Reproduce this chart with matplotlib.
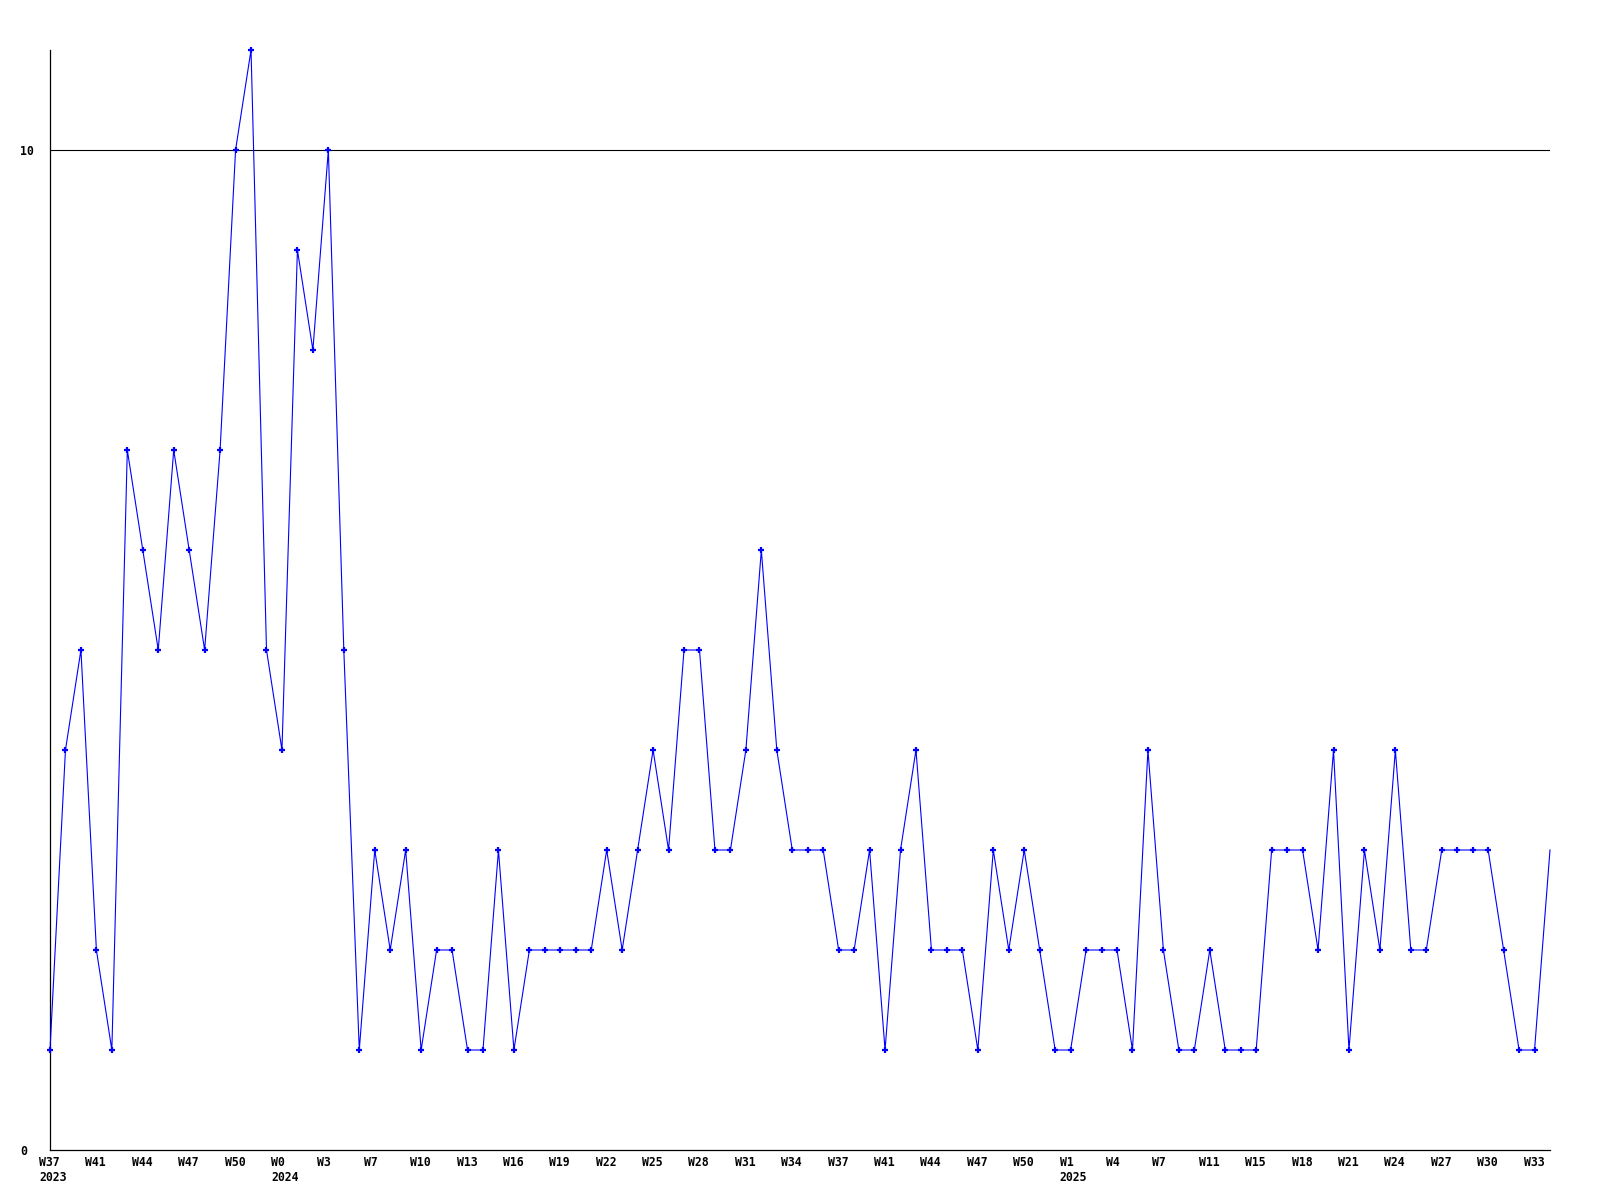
import matplotlib
matplotlib.use("Agg")
import matplotlib.pyplot as plt
from matplotlib.transforms import ScaledTranslation

# Weekly counts (98 weeks)
values = [1, 4, 5, 2, 1, 7, 6, 5, 7, 6, 5, 7, 10, 11, 5, 4, 9, 8, 10, 5,
          1, 3, 2, 3, 1, 2, 2, 1, 1, 3, 1, 2, 2, 2, 2, 2, 3, 2, 3, 4,
          3, 5, 5, 3, 3, 4, 6, 4, 3, 3, 3, 2, 2, 3, 1, 3, 4, 2, 2, 2,
          1, 3, 2, 3, 2, 1, 1, 2, 2, 2, 1, 4, 2, 1, 1, 2, 1, 1, 1, 3,
          3, 3, 2, 4, 1, 3, 2, 4, 2, 2, 3, 3, 3, 3, 2, 1, 1, 3]

week_labels = ["W37", "W41", "W44", "W47", "W50", "W0", "W3", "W7", "W10", "W13",
               "W16", "W19", "W22", "W25", "W28", "W31", "W34", "W37", "W41", "W44",
               "W47", "W50", "W1", "W4", "W7", "W11", "W15", "W18", "W21", "W24",
               "W27", "W30", "W33"]
year_labels = {0: "2023", 5: "2024", 22: "2025"}

y_ticks = [0, 10]
ref_line = 10

fig = plt.figure(figsize=(16, 12), dpi=100)
ax = fig.add_axes([50 / 1600, 50 / 1200, 1500 / 1600, 1100 / 1200])

x = list(range(len(values)))
ax.axhline(ref_line, color="black", lw=0.8, zorder=1)
ax.plot(x, values, color="#0000ff", lw=0.8, marker="+", ms=5, mew=1.6,
        markevery=list(range(len(values) - 1)), zorder=3, clip_on=False)

ax.set_xlim(0, len(values) - 1)
ax.set_ylim(0, 11)

for s in ["top", "right"]:
    ax.spines[s].set_visible(False)
for s in ["left", "bottom"]:
    ax.spines[s].set_color("black")
    ax.spines[s].set_linewidth(0.9)
    ax.spines[s].set_zorder(2)

font = dict(family="DejaVu Sans Mono", weight="bold", size=8.3)

ax.set_yticks(y_ticks)
ax.set_yticklabels([str(v) for v in y_ticks], fontdict=font, ha="left")
ax.tick_params(axis="y", length=0, pad=21.6)

tick_pos = list(range(0, len(values), 3))[:len(week_labels)]
labels = []
for i, w in enumerate(week_labels):
    labels.append(w + ("\n" + year_labels[i] if i in year_labels else ""))
ax.set_xticks(tick_pos)
ax.set_xticklabels(labels, fontdict=font, ha="left", va="top", linespacing=1.2)
ax.tick_params(axis="x", length=0, pad=4.5)
off = ScaledTranslation(-11 / 100, 0, fig.dpi_scale_trans)
for lab in ax.get_xticklabels():
    lab.set_transform(lab.get_transform() + off)

fig.savefig("out.png", dpi=100, facecolor="white")
